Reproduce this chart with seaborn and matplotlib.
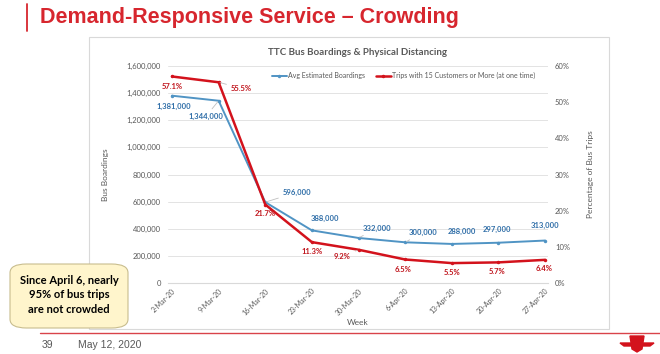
import numpy as np
import pandas as pd
import matplotlib.pyplot as plt
from matplotlib.patches import FancyBboxPatch, Polygon, Rectangle
from matplotlib.lines import Line2D
from matplotlib.ticker import FuncFormatter
import seaborn as sns

sns.set_theme(style="white")
plt.rcParams['font.family'] = ['Lato', 'DejaVu Sans']

weeks = ["2-Mar-20", "9-Mar-20", "16-Mar-20", "23-Mar-20", "30-Mar-20",
         "6-Apr-20", "13-Apr-20", "20-Apr-20", "27-Apr-20"]
boardings = [1381000, 1344000, 596000, 388000, 332000, 300000, 288000, 297000, 313000]
crowded_pct = [57.1, 55.5, 21.7, 11.3, 9.2, 6.5, 5.5, 5.7, 6.4]

df = pd.DataFrame({"x": range(len(weeks)), "week": weeks,
                   "boardings": boardings, "pct": np.array(crowded_pct) / 100})

BLUE = "#5094c4"
BLUE_TXT = "#2f6ea8"
RED = "#d3121c"
RED_TXT = "#c0141c"
GREY = "#595959"

fig = plt.figure(figsize=(6.6, 3.54), dpi=100)

# slide decorations
fig.add_artist(Rectangle((89 / 660, 1 - 329 / 354), 520 / 660, 292 / 354,
                         transform=fig.transFigure, facecolor="white",
                         edgecolor="#d9d9d9", lw=0.8, zorder=-1))
fig.add_artist(Line2D([27 / 660, 27 / 660], [1 - 4 / 354, 1 - 31 / 354],
                      color="#d7262e", lw=1.3))
fig.text(40 / 660, 1 - 18 / 354, "Demand-Responsive Service \u2013 Crowding",
         family="Liberation Sans", weight="bold", fontsize=15.5,
         color="#d7262e", va="center", ha="left")
fig.add_artist(Line2D([40 / 660, 1], [1 - 333 / 354, 1 - 333 / 354],
                      color="#d9434a", lw=1.0))
fig.text(42 / 660, 1 - 345 / 354, "39", fontsize=7.5, color=GREY, va="center",
         family="Liberation Sans")
fig.text(78 / 660, 1 - 345 / 354, "May 12, 2020", fontsize=7.5, color=GREY,
         va="center", family="Liberation Sans")

# small TTC logo
fx = lambda px: px / 660
fy = lambda py: 1 - py / 354
fig.add_artist(Polygon([(fx(630), fy(336)), (fx(644), fy(336)), (fx(642), fy(349)),
                        (fx(637), fy(352)), (fx(632), fy(349))],
                       closed=True, transform=fig.transFigure, color="#d3121c"))
fig.add_artist(Polygon([(fx(620), fy(343)), (fx(654), fy(343)), (fx(650), fy(346)),
                        (fx(624), fy(346))],
                       closed=True, transform=fig.transFigure, color="#d3121c"))

# callout box
box = FancyBboxPatch((10 / 660, 1 - 328 / 354), 118 / 660, 64 / 354,
                     boxstyle="round,pad=0,rounding_size=0.025",
                     transform=fig.transFigure, facecolor="#fff5cc",
                     edgecolor="#c8bd8e", lw=0.8, zorder=5)
fig.add_artist(box)
fig.text(69 / 660, 1 - 295 / 354, "Since April 6, nearly\n95% of bus trips\nare not crowded",
         ha="center", va="center", fontsize=8, weight="bold", color="black",
         linespacing=1.35, zorder=6)

# chart
ax = fig.add_axes([168 / 660, 1 - 283 / 354, 380 / 660, 217 / 354])
ax2 = ax.twinx()
ax.patch.set_alpha(0)
ax2.patch.set_alpha(0)

sns.lineplot(data=df, x="x", y="boardings", ax=ax, color=BLUE, lw=1.4,
             marker="o", markersize=2.5, markeredgewidth=0, label="Avg Estimated Boardings",
             legend=False)
sns.lineplot(data=df, x="x", y="pct", ax=ax2, color=RED, lw=1.8,
             marker="o", markersize=2.5, markeredgewidth=0,
             label="Trips with 15 Customers or More (at one time)", legend=False)

ax.set_xlim(-0.086, 8.064)
ax.set_ylim(0, 1600000)
ax2.set_ylim(0, 0.6)
ax.set_yticks(np.arange(0, 1600001, 200000))
ax2.set_yticks(np.arange(0, 0.61, 0.1))
ax.yaxis.set_major_formatter(FuncFormatter(lambda v, p: f"{int(v):,}"))
ax2.yaxis.set_major_formatter(FuncFormatter(lambda v, p: f"{v * 100:.0f}%"))
ax.set_xticks(df["x"])
ax.set_xticklabels(weeks, rotation=45, ha="right", rotation_mode="anchor")

for a in (ax, ax2):
    for s in a.spines.values():
        s.set_visible(False)
    a.tick_params(length=0, labelsize=5.5, labelcolor=GREY)
ax.tick_params(axis="y", pad=5)
ax2.tick_params(axis="y", pad=5)
ax.tick_params(axis="x", pad=3, labelsize=5)
ax.spines["bottom"].set_visible(True)
ax.spines["bottom"].set_color("#d9d9d9")
ax.spines["bottom"].set_linewidth(0.8)
ax.grid(axis="y", color="#e3e3e3", lw=0.7)
ax.set_axisbelow(True)

ax.set_xlabel("Week", fontsize=6, color=GREY, labelpad=2)
ax.set_ylabel("Bus Boardings", fontsize=6, color=GREY, labelpad=13)
ax2.set_ylabel("Percentage of Bus Trips", fontsize=6, color=GREY, labelpad=12)

ax.text(0.5, 1.06, "TTC Bus Boardings & Physical Distancing", transform=ax.transAxes,
        ha="center", va="center", fontsize=7, weight="bold", color=GREY)

# data labels
blue_off = [(2, -11), (-13, -16), (32, 10), (13, 12), (19, 10), (18, 10), (10, 12), (-1, 13), (0, 15)]
blue_lead = [False, True, True, False, True, True, False, False, False]
for i, (v, off, lead) in enumerate(zip(boardings, blue_off, blue_lead)):
    ax.annotate(f"{v:,}", (i, v), xytext=off, textcoords="offset pixels",
                ha="center", va="center", fontsize=5.5, weight="bold", color=BLUE_TXT,
                arrowprops=dict(arrowstyle="-", color="#bfbfbf", lw=0.6, shrinkA=1, shrinkB=1)
                if lead else None)

red_off = [(0, -10), (23, -6), (0, -9), (0, -9), (-16, -7), (-2, -10), (0, -9), (-1, -9), (-1, -9)]
red_lead = [False, True, False, False, True, False, False, False, False]
for i, (v, off, lead) in enumerate(zip(crowded_pct, red_off, red_lead)):
    ax2.annotate(f"{v:.1f}%", (i, v / 100), xytext=off, textcoords="offset pixels",
                 ha="center", va="center", fontsize=5.5, weight="bold", color=RED_TXT,
                 arrowprops=dict(arrowstyle="-", color="#bfbfbf", lw=0.6, shrinkA=1, shrinkB=1)
                 if lead else None)

h1, l1 = ax.get_legend_handles_labels()
h2, l2 = ax2.get_legend_handles_labels()
leg = ax2.legend(h1 + h2, l1 + l2, loc="center", bbox_to_anchor=(0.62, 0.955), ncol=2,
                 frameon=False, fontsize=5, handlelength=2.2, columnspacing=1.5,
                 handletextpad=0.2)
for t in leg.get_texts():
    t.set_color(GREY)

fig.savefig("out.png", dpi=100)
